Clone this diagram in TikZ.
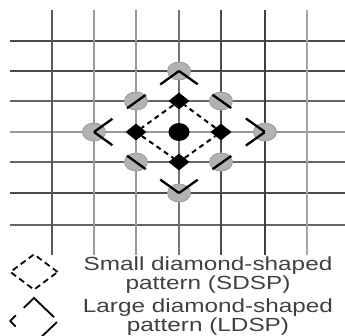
\documentclass[tikz,border=0pt]{standalone}
\usepackage{fontspec}
\setmainfont{Liberation Sans}
\newfontfamily\legendfont[FakeStretch=1.28]{Liberation Sans}
\usetikzlibrary{shapes.geometric,positioning}

\tikzset{
  gridline/.style={line width=1.8pt},
  blackpt/.style={diamond, fill=black, inner sep=0pt, minimum width=21pt, minimum height=17pt},
  centerpt/.style={ellipse, fill=black, inner sep=0pt, minimum width=21pt, minimum height=18pt},
  graypt/.style={ellipse, fill=gray!60, draw=gray!80, line width=0.8pt, inner sep=0pt, minimum width=23pt, minimum height=18pt},
  smalldash/.style={line width=2pt, dash pattern=on 5pt off 4pt},
  largedash/.style={line width=2.3pt, dash pattern=on 23pt off 18pt},
  legendtext/.style={text=black!75, align=center, font=\legendfont\fontsize{19}{19}\selectfont}
}

\begin{document}
\begin{tikzpicture}[x=1pt,y=-1pt]
    \useasboundingbox (0,0) rectangle (345,335);

    % Search grid
    \foreach \y/\c in {41/70,71/70,101/60,132/40,162/60,193/70,225/60}
        \draw[gridline, black!\c] (10,\y) -- (345,\y);
    \foreach \x/\c in {52/65,94/40,136/40,179/55,221/70,265/75,307/35}
        \draw[gridline, black!\c] (\x,10) -- (\x,255);

    % Large diamond points
    \node[graypt] (ltop) at (179,71) {};
    \node[graypt] (lleft) at (94,132) {};
    \node[graypt] (lright) at (265,132) {};
    \node[graypt] (lbot) at (179,193) {};
    \node[graypt] (lnw) at (136,101) {};
    \node[graypt] (lne) at (221,101) {};
    \node[graypt] (lsw) at (136,162) {};
    \node[graypt] (lse) at (221,162) {};

    % Small diamond points
    \node[centerpt] (ctr) at (179,132) {};
    \node[blackpt] (stop) at (179,101) {};
    \node[blackpt] (sleft) at (136,132) {};
    \node[blackpt] (sright) at (221,132) {};
    \node[blackpt] (sbot) at (179,162) {};

    % SDSP
    \draw[smalldash] (stop) -- (sleft);
    \draw[smalldash] (sleft) -- (sbot);
    \draw[smalldash] (sbot) -- (sright);
    \draw[smalldash] (sright) -- (stop);

    % LDSP
    \draw[largedash] (ltop.center) -- (lleft.center);
    \draw[largedash] (ltop.center) -- (lright.center);
    \draw[largedash] (lbot.center) -- (lleft.center);
    \draw[largedash] (lbot.center) -- (lright.center);

    % Legend
    \node[diamond, draw, line width=1.8pt, dash pattern=on 6pt off 4pt, inner sep=0pt,
          minimum width=48pt, minimum height=36pt] (sdspkey) at (34,272) {};
    \draw[line width=1.8pt, dash pattern=on 8pt off 11pt on 42pt off 7pt on 22pt off 35pt on 8pt off 0pt]
        (10,321) -- (34,298) -- (58,321) -- (34,344) -- cycle;
    \coordinate (ldspkey) at (34,321);

    \node[legendtext, anchor=base] (sdsplabel) at (208,289.5) {Small diamond-shaped\\pattern (SDSP)};
    \node[legendtext, anchor=base] (ldsplabel) at (208,331) {Large diamond-shaped\\pattern (LDSP)};
\end{tikzpicture}
\end{document}
